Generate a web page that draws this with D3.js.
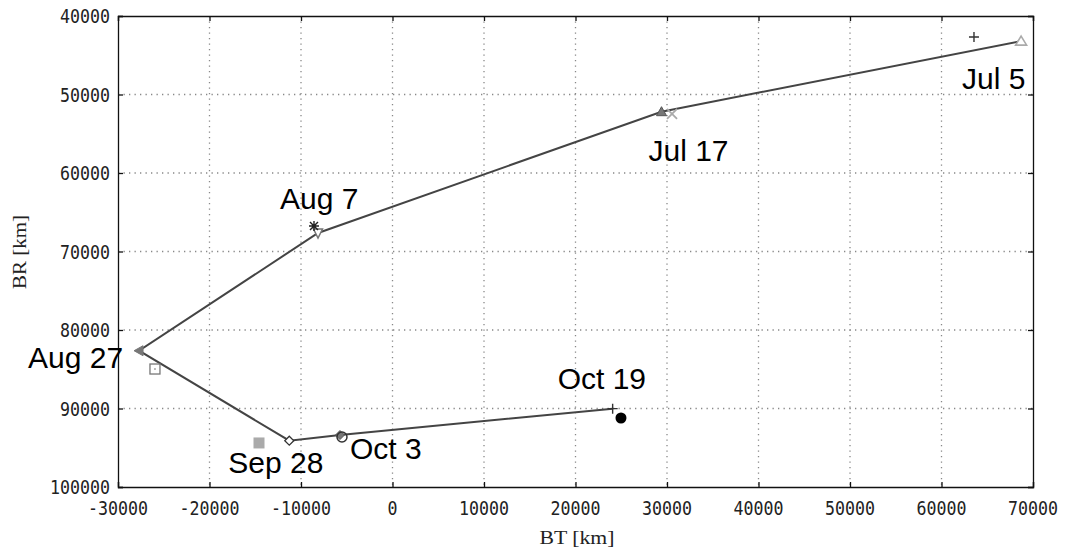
<!DOCTYPE html>
<html>
<head>
  <meta charset="utf-8">
  <script src="https://cdn.jsdelivr.net/npm/d3@7"></script>
  <style>
    body { margin: 0; background: #fff; }
    .tick-label { font-family: "DejaVu Sans Mono", monospace; font-size: 20px; fill: #222; }
    .axis-title { font-family: "Liberation Serif", serif; font-size: 19px; fill: #222; }
    .date-label { font-family: "Liberation Sans", Arial, sans-serif; font-size: 30px; fill: #000; }
  </style>
</head>
<body>
  <script type="text/javascript">
    // trajectory vertices (BT, BR) in km
    var dates = ["Jul 5", "Jul 17", "Aug 7", "Aug 27", "Sep 28", "Oct 3", "Oct 19"];
    var pathBT = [68700, 29400, -8140, -27700, -11280, -5740, 24060];
    var pathBR = [43200, 52190, 67640, 82640, 94100, 93380, 90020];

    // separate measured points for the same dates
    var obsBT = [63550, 30550, -8580, -25960, -14590, -5520, 24970];
    var obsBR = [42680, 52480, 66750, 84970, 94390, 93630, 91210];

    var xTicks = [-30000, -20000, -10000, 0, 10000, 20000, 30000, 40000, 50000, 60000, 70000];
    var yTicks = [40000, 50000, 60000, 70000, 80000, 90000, 100000];

    // marker look for each date: line marker / measured marker
    var pathSym = ["triUpOpenLight", "triUpFill", "triDownOpen", "triLeftFill", "diamondOpen", "diamondFill", "plus"];
    var obsSym = ["plus", "crossLight", "asterisk", "squareOpen", "squareFillLight", "circleOpen", "circleFill"];

    // label placement relative to line vertex (px)
    var labelOffset = [[-59, 48], [-13, 49], [-38, -24], [-111, 17], [-61, 32], [10, 24], [-55, -20]];

    var W = 1071, H = 551;
    var pL = 118, pT = 16, pR = 1033, pB = 487;

    var svg = d3.select("body").append("svg")
        .attr("width", W).attr("height", H);

    var x = d3.scaleLinear().domain([-30000, 70000]).range([pL, pR]);
    var y = d3.scaleLinear().domain([40000, 100000]).range([pT, pB]);

    // grid
    svg.selectAll(".vgrid").data(xTicks.slice(1, -1)).enter().append("line")
        .attr("x1", function (d) { return x(d); }).attr("x2", function (d) { return x(d); })
        .attr("y1", pT).attr("y2", pB)
        .style("stroke", "#888").style("stroke-width", 1.3).style("stroke-dasharray", "1.3,4.2");
    svg.selectAll(".hgrid").data(yTicks.slice(1, -1)).enter().append("line")
        .attr("x1", pL).attr("x2", pR)
        .attr("y1", function (d) { return y(d); }).attr("y2", function (d) { return y(d); })
        .style("stroke", "#888").style("stroke-width", 1.3).style("stroke-dasharray", "1.3,4.2");

    // axes with inner ticks on all sides
    var axB = d3.axisBottom(x).tickValues(xTicks).tickSize(-5).tickFormat("");
    var axT = d3.axisTop(x).tickValues(xTicks).tickSize(-5).tickFormat("");
    var axL = d3.axisLeft(y).tickValues(yTicks).tickSize(-5).tickFormat("");
    var axR = d3.axisRight(y).tickValues(yTicks).tickSize(-5).tickFormat("");
    svg.append("g").attr("transform", "translate(0," + pB + ")").call(axB);
    svg.append("g").attr("transform", "translate(0," + pT + ")").call(axT);
    svg.append("g").attr("transform", "translate(" + pL + ",0)").call(axL);
    svg.append("g").attr("transform", "translate(" + pR + ",0)").call(axR);
    svg.selectAll(".domain, .tick line").style("stroke", "#111").style("stroke-width", 1.3);

    // tick labels
    svg.selectAll(".xl").data(xTicks).enter().append("text")
        .attr("class", "tick-label")
        .attr("x", function (d) { return x(d); }).attr("y", 515)
        .attr("text-anchor", "middle")
        .attr("textLength", function (d) { return String(d).length * 10; })
        .attr("lengthAdjust", "spacingAndGlyphs")
        .text(function (d) { return d; });
    svg.selectAll(".yl").data(yTicks).enter().append("text")
        .attr("class", "tick-label")
        .attr("x", 110).attr("y", function (d) { return y(d) + 7; })
        .attr("text-anchor", "end")
        .attr("textLength", function (d) { return String(d).length * 10; })
        .attr("lengthAdjust", "spacingAndGlyphs")
        .text(function (d) { return d; });

    svg.append("text").attr("class", "axis-title")
        .attr("x", 577).attr("y", 544).attr("text-anchor", "middle")
        .attr("textLength", 75).attr("lengthAdjust", "spacingAndGlyphs")
        .text("BT [km]");
    svg.append("text").attr("class", "axis-title")
        .attr("transform", "translate(26,252) rotate(-90)").attr("text-anchor", "middle")
        .attr("textLength", 74).attr("lengthAdjust", "spacingAndGlyphs")
        .text("BR [km]");

    // trajectory line
    var pts = dates.map(function (d, i) { return [pathBT[i], pathBR[i]]; });
    svg.append("path").datum(pts)
        .attr("d", d3.line().x(function (d) { return x(d[0]); }).y(function (d) { return y(d[1]); }))
        .style("fill", "none").style("stroke", "#444").style("stroke-width", 2);

    function marker(g, kind) {
      var dark = "#333", mid = "#777", light = "#aaa";
      if (kind === "triUpOpenLight") g.append("path").attr("d", "M0,-5L5.5,4L-5.5,4Z").style("fill", "#fff").style("stroke", light).style("stroke-width", 1.6);
      if (kind === "triUpFill") g.append("path").attr("d", "M0,-5L5,4L-5,4Z").style("fill", mid).style("stroke", "#555").style("stroke-width", 1);
      if (kind === "triDownOpen") g.append("path").attr("d", "M-4.5,-4L4.5,-4L0,5Z").style("fill", "#fff").style("stroke", mid).style("stroke-width", 1.5);
      if (kind === "triLeftFill") g.append("path").attr("d", "M-5,0L4,-5L4,5Z").style("fill", mid).style("stroke", mid);
      if (kind === "diamondOpen") g.append("path").attr("d", "M0,-4.5L4.5,0L0,4.5L-4.5,0Z").style("fill", "#fff").style("stroke", dark).style("stroke-width", 1.3);
      if (kind === "diamondFill") g.append("path").attr("d", "M0,-4.5L4.5,0L0,4.5L-4.5,0Z").style("fill", mid).style("stroke", "#555");
      if (kind === "plus") g.append("path").attr("d", "M-5,0H5M0,-5V5").style("stroke", dark).style("stroke-width", 1.4);
      if (kind === "crossLight") g.append("path").attr("d", "M-5,-5L5,5M-5,5L5,-5").style("stroke", light).style("stroke-width", 1.8);
      if (kind === "asterisk") g.append("path").attr("d", "M-5,0H5M0,-5V5M-4,-4L4,4M-4,4L4,-4").style("stroke", "#222").style("stroke-width", 1.4);
      if (kind === "squareOpen") {
        g.append("rect").attr("x", -5).attr("y", -5).attr("width", 10).attr("height", 10).style("fill", "#fff").style("stroke", mid).style("stroke-width", 1.3);
        g.append("rect").attr("x", -0.7).attr("y", -0.7).attr("width", 1.4).attr("height", 1.4).style("fill", mid);
      }
      if (kind === "squareFillLight") g.append("rect").attr("x", -5.5).attr("y", -5.5).attr("width", 11).attr("height", 11).style("fill", light);
      if (kind === "circleOpen") g.append("circle").attr("r", 5).style("fill", "none").style("stroke", dark).style("stroke-width", 1.5);
      if (kind === "circleFill") g.append("circle").attr("r", 5.5).style("fill", "#000");
    }

    dates.forEach(function (d, i) {
      marker(svg.append("g").attr("transform", "translate(" + x(pathBT[i]) + "," + y(pathBR[i]) + ")"), pathSym[i]);
      marker(svg.append("g").attr("transform", "translate(" + x(obsBT[i]) + "," + y(obsBR[i]) + ")"), obsSym[i]);
    });

    // date labels
    svg.selectAll(".date-label").data(dates).enter().append("text")
        .attr("class", "date-label")
        .attr("x", function (d, i) { return x(pathBT[i]) + labelOffset[i][0]; })
        .attr("y", function (d, i) { return y(pathBR[i]) + labelOffset[i][1]; })
        .text(function (d) { return d; });
  </script>
</body>
</html>
